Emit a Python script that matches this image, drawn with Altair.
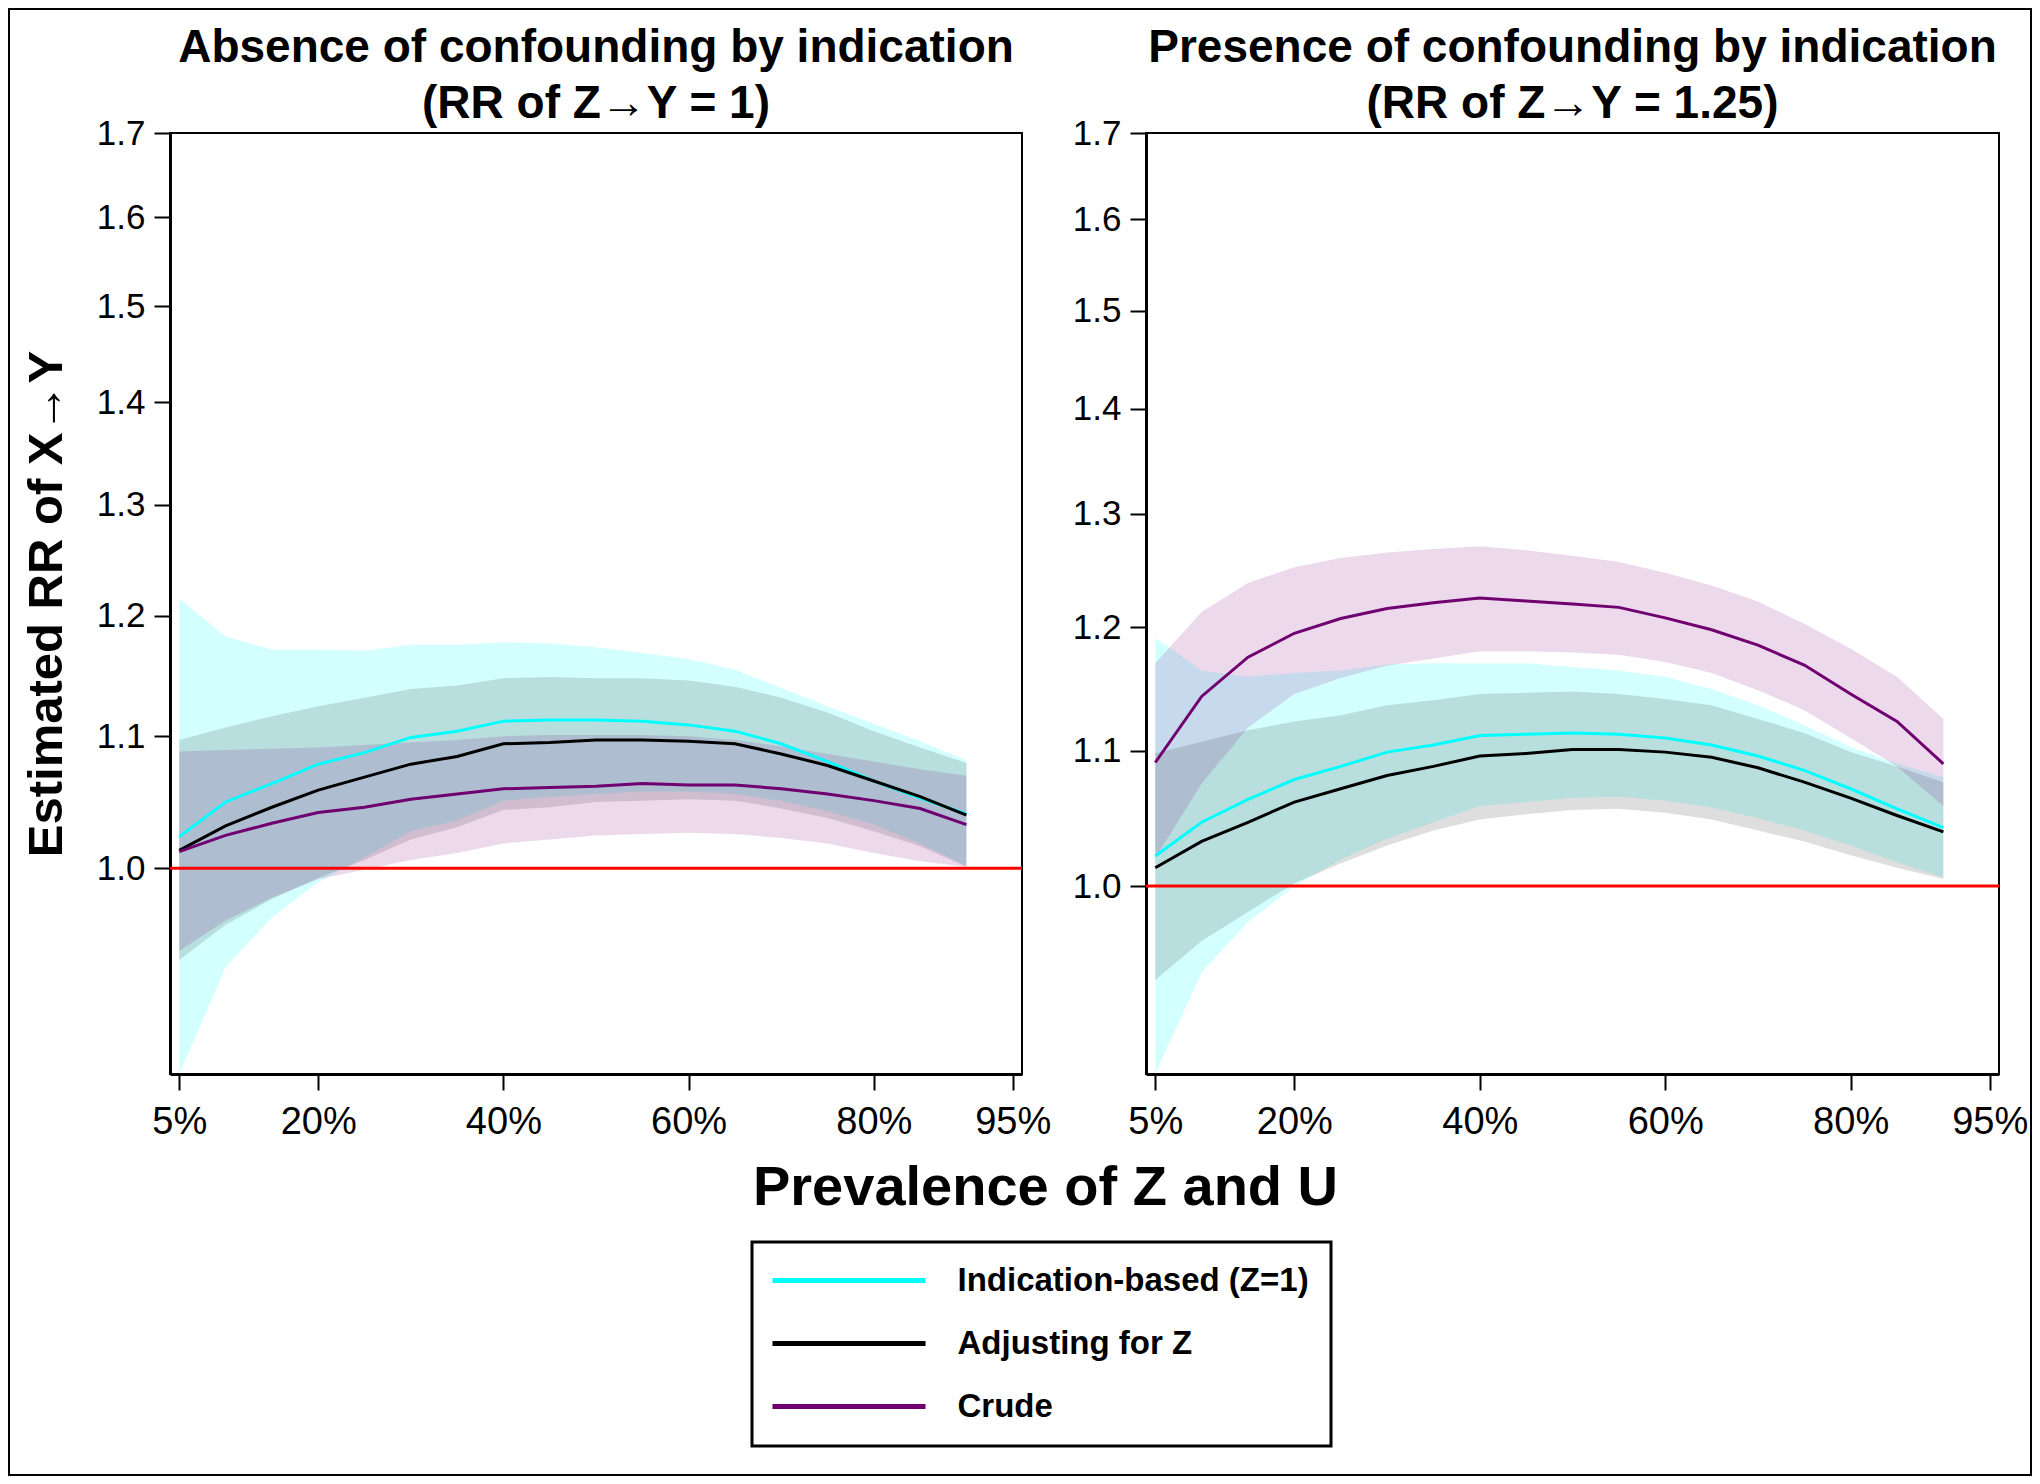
import altair as alt
import pandas as pd

# ---------------- data ----------------
x_pct = [5, 10, 15, 20, 25, 30, 35, 40, 45, 50, 55, 60, 65, 70, 75, 80, 85, 90]

series_names = ["Indication-based (Z=1)", "Adjusting for Z", "Crude"]
line_colors = ["#00FFFF", "#000000", "#700070"]
band_colors = ["#00FFFF", "#000000", "#800080"]
band_opacity = [0.17, 0.13, 0.15]

x_ticks = [5, 20, 40, 60, 80, 95]
y_ticks = [1.0, 1.1, 1.2, 1.3, 1.4, 1.5, 1.6, 1.7]

# Left panel: absence of confounding by indication
L_ind_mid = [1.023, 1.049, 1.063, 1.078, 1.087, 1.099, 1.104, 1.112, 1.113, 1.113, 1.112, 1.109, 1.104, 1.094, 1.080, 1.065, 1.052, 1.040]
L_ind_lo = [0.862, 0.931, 0.965, 0.990, 1.008, 1.027, 1.035, 1.050, 1.053, 1.055, 1.057, 1.057, 1.055, 1.050, 1.042, 1.032, 1.018, 1.002]
L_ind_hi = [1.215, 1.182, 1.171, 1.171, 1.170, 1.175, 1.175, 1.177, 1.176, 1.173, 1.168, 1.163, 1.154, 1.139, 1.124, 1.110, 1.096, 1.081]
L_adj_mid = [1.013, 1.031, 1.045, 1.058, 1.068, 1.078, 1.084, 1.094, 1.095, 1.097, 1.097, 1.096, 1.094, 1.086, 1.077, 1.065, 1.053, 1.039]
L_adj_lo = [0.936, 0.960, 0.978, 0.993, 1.006, 1.021, 1.030, 1.043, 1.045, 1.049, 1.050, 1.051, 1.050, 1.044, 1.037, 1.027, 1.016, 1.001]
L_adj_hi = [1.097, 1.107, 1.116, 1.124, 1.131, 1.138, 1.141, 1.147, 1.148, 1.147, 1.147, 1.145, 1.140, 1.131, 1.119, 1.104, 1.091, 1.079]
L_cru_mid = [1.012, 1.024, 1.033, 1.041, 1.045, 1.051, 1.055, 1.059, 1.060, 1.061, 1.063, 1.062, 1.062, 1.059, 1.055, 1.050, 1.044, 1.032]
L_cru_lo = [0.942, 0.963, 0.979, 0.992, 0.999, 1.006, 1.011, 1.018, 1.021, 1.024, 1.025, 1.026, 1.025, 1.022, 1.018, 1.011, 1.005, 1.001]
L_cru_hi = [1.088, 1.089, 1.090, 1.091, 1.093, 1.095, 1.097, 1.100, 1.101, 1.101, 1.101, 1.100, 1.097, 1.092, 1.086, 1.080, 1.074, 1.069]

# Right panel: presence of confounding by indication
R_ind_mid = [1.0215, 1.046, 1.063, 1.078, 1.088, 1.099, 1.1045, 1.112, 1.113, 1.114, 1.113, 1.110, 1.1045, 1.096, 1.085, 1.071, 1.056, 1.042]
R_ind_lo = [0.876, 0.941, 0.975, 1.000, 1.019, 1.034, 1.046, 1.058, 1.061, 1.064, 1.065, 1.062, 1.057, 1.049, 1.040, 1.029, 1.017, 1.006]
R_ind_hi = [1.191, 1.164, 1.159, 1.162, 1.164, 1.169, 1.170, 1.170, 1.170, 1.167, 1.164, 1.159, 1.149, 1.136, 1.120, 1.103, 1.090, 1.080]
R_adj_mid = [1.013, 1.032, 1.046, 1.061, 1.071, 1.081, 1.088, 1.096, 1.098, 1.101, 1.101, 1.099, 1.095, 1.087, 1.076, 1.064, 1.051, 1.039]
R_adj_lo = [0.936, 0.962, 0.982, 1.002, 1.016, 1.029, 1.040, 1.048, 1.052, 1.055, 1.056, 1.053, 1.048, 1.040, 1.032, 1.022, 1.013, 1.005]
R_adj_hi = [1.098, 1.107, 1.116, 1.123, 1.128, 1.136, 1.140, 1.145, 1.146, 1.147, 1.145, 1.141, 1.136, 1.125, 1.114, 1.099, 1.088, 1.076]
R_cru_mid = [1.091, 1.143, 1.175, 1.195, 1.2075, 1.216, 1.221, 1.225, 1.2225, 1.220, 1.217, 1.208, 1.198, 1.185, 1.1685, 1.145, 1.123, 1.090]
R_cru_lo = [1.020, 1.075, 1.118, 1.145, 1.158, 1.168, 1.174, 1.180, 1.180, 1.179, 1.177, 1.171, 1.162, 1.148, 1.132, 1.110, 1.088, 1.058]
R_cru_hi = [1.170, 1.213, 1.238, 1.252, 1.260, 1.265, 1.268, 1.2705, 1.267, 1.262, 1.2565, 1.247, 1.236, 1.222, 1.203, 1.182, 1.159, 1.125]

panels = {
    "left": [(L_ind_mid, L_ind_lo, L_ind_hi), (L_adj_mid, L_adj_lo, L_adj_hi), (L_cru_mid, L_cru_lo, L_cru_hi)],
    "right": [(R_ind_mid, R_ind_lo, R_ind_hi), (R_adj_mid, R_adj_lo, R_adj_hi), (R_cru_mid, R_cru_lo, R_cru_hi)],
}

rows = []
for key, series in panels.items():
    for name, (mid, lo, hi) in zip(series_names, series):
        for x, m, l, h in zip(x_pct, mid, lo, hi):
            rows.append({"panel": key, "series": name, "x": x, "mid": m, "lo": l, "hi": h})
df = pd.DataFrame(rows)
ref_df = pd.DataFrame({"ref": [1.0]})

FONT = "Liberation Sans"

legend = alt.Legend(
    orient="none", legendX=707, legendY=1109, title=None, direction="vertical",
    symbolType="M-8,0H8", symbolSize=366, symbolStrokeWidth=5,
    symbolOffset=58.5, labelOffset=92, labelLimit=0, labelFontSize=33, labelFont=FONT,
    labelFontWeight="bold", labelColor="black", padding=22, rowPadding=29,
    strokeColor="black",
)
color_enc = alt.Color("series:N", scale=alt.Scale(domain=series_names, range=line_colors), legend=legend)


def panel(key, ymin, width, title, subtitle, left_side):
    xscale = alt.Scale(domain=[4, 96], nice=False, zero=False)
    yscale = alt.Scale(type="log", domain=[ymin, 1.7], nice=False, zero=False)
    xkw = dict(values=x_ticks, labelExpr="datum.value + '%'", tickSize=16, labelFontSize=38,
               labelPadding=13, labelFlush=False, grid=False)
    ykw = dict(values=y_ticks, format=".1f", tickSize=16, labelFontSize=35, labelPadding=9,
               labelOverlap=False, grid=False)
    if left_side:
        xaxis = alt.Axis(title="Prevalence of Z and U", titleX=875, titleY=130, titleAlign="center",
                         titleBaseline="alphabetic", titleFontSize=56, titleFontWeight="bold", **xkw)
        yaxis = alt.Axis(title="Estimated RR of X\u2192Y", titleFontSize=49, titleFontWeight="bold",
                         titlePadding=25, **ykw)
    else:
        xaxis = alt.Axis(title=None, **xkw)
        yaxis = alt.Axis(title=None, **ykw)

    X = alt.X("x:Q", scale=xscale, axis=xaxis)
    base = alt.Chart(df).transform_filter(alt.datum.panel == key)
    layers = []
    for name, c, o in zip(series_names, band_colors, band_opacity):
        layers.append(
            base.transform_filter(alt.datum.series == name)
            .mark_area(color=c, opacity=o)
            .encode(x=X, y=alt.Y("lo:Q", scale=yscale, axis=yaxis), y2="hi:Q")
        )
    layers.append(
        alt.Chart(ref_df).mark_rule(color="#FF0000", strokeWidth=3)
        .encode(y=alt.Y("ref:Q", scale=yscale, axis=yaxis))
    )
    layers.append(
        base.mark_line(strokeWidth=3)
        .encode(x=X, y=alt.Y("mid:Q", scale=yscale, axis=yaxis), color=color_enc)
    )
    return alt.layer(*layers).properties(
        width=width, height=941,
        title=alt.TitleParams(text=title, subtitle=subtitle, fontSize=46, subtitleFontSize=46,
                              fontWeight="bold", subtitleFontWeight="bold", font=FONT, subtitleFont=FONT,
                              color="black", subtitleColor="black", anchor="middle", frame="group",
                              offset=-12, subtitlePadding=10),
    )


left = panel("left", 0.862, 852, "Absence of confounding by indication", "(RR of Z\u2192Y = 1)", True)
right = panel("right", 0.876, 853, "Presence of confounding by indication", "(RR of Z\u2192Y = 1.25)", False)

frame_view = alt.Chart(pd.DataFrame({"f": [0]})).mark_rect(
    fill="transparent", stroke="black", strokeWidth=2
).encode(
    x=alt.value(-36), x2=alt.value(1986), y=alt.value(-124), y2=alt.value(1342)
).properties(width=1, height=1, view=alt.ViewBackground(strokeOpacity=0))

chart = alt.hconcat(frame_view, left, right, spacing=124, bounds="flush").resolve_scale(
    x="independent", y="independent", color="shared"
).properties(padding=0, background="white").configure_view(
    stroke="black", strokeWidth=2
).configure_axis(
    domainColor="black", domainWidth=3, tickColor="black", tickWidth=2,
    labelColor="black", labelFont=FONT, titleFont=FONT, titleColor="black",
).configure_legend(strokeWidth=3)

chart.save("out.html", embed_options={"renderer": "svg", "actions": False})
